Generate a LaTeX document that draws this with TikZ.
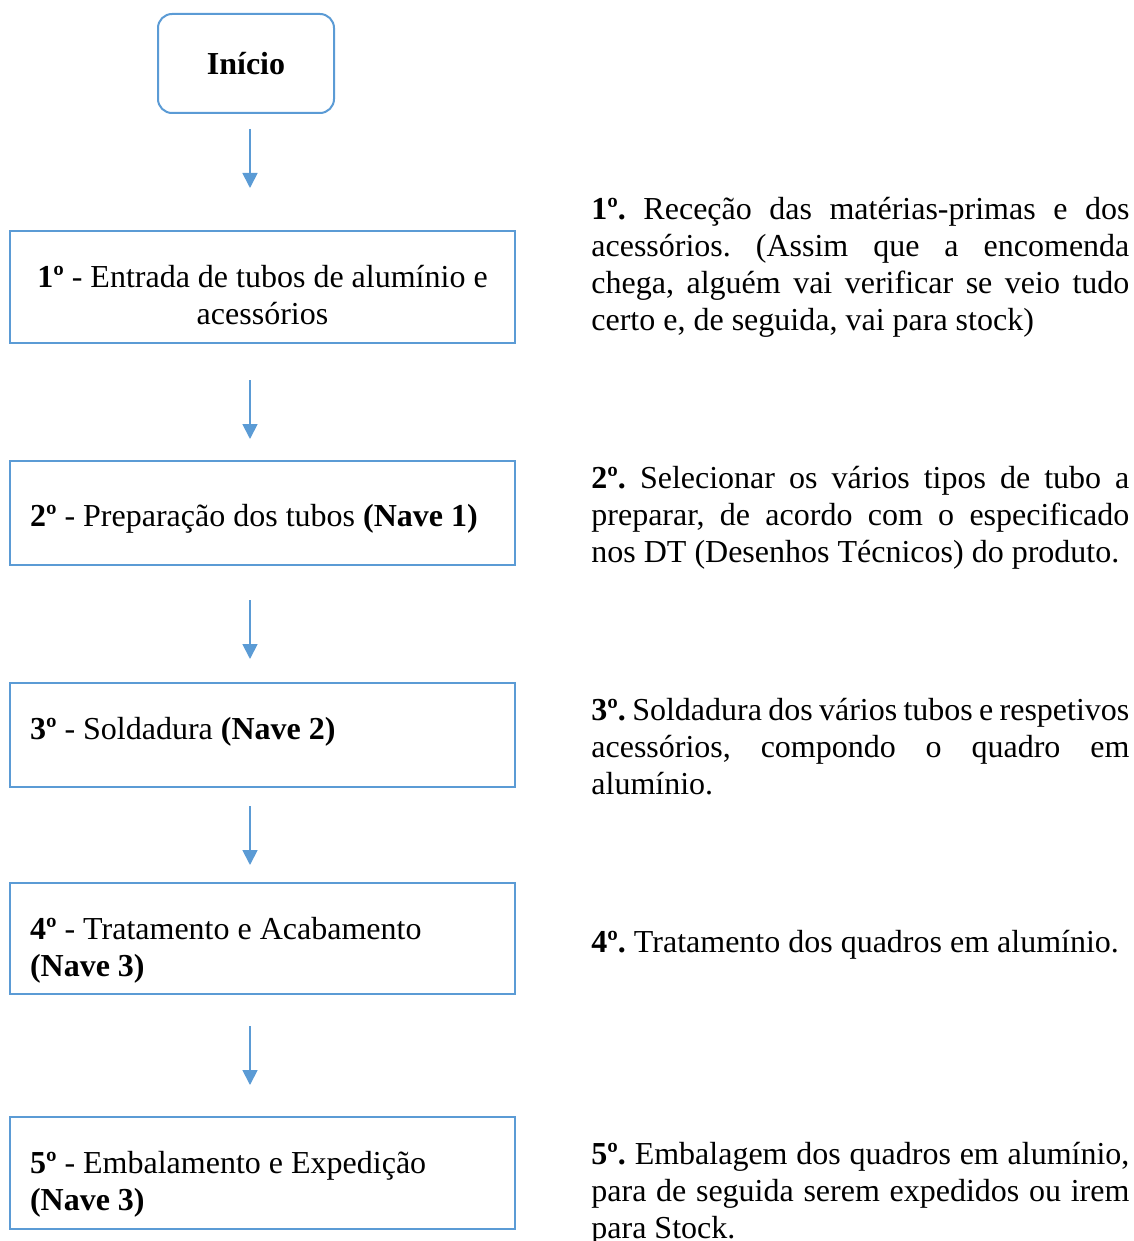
\documentclass[tikz,border=0pt]{standalone}
\usepackage{fontspec}
\setmainfont{Liberation Serif}
\frenchspacing
\usetikzlibrary{arrows.meta, positioning}
\definecolor{azul}{HTML}{5B9BD5}
\tikzset{
  inicio/.style={rectangle, rounded corners=7pt, draw=azul, line width=1pt,
                 minimum width=88pt, minimum height=49.5pt,
                 font=\fontsize{16}{18.5}\selectfont\bfseries},
  etapa/.style={rectangle, draw=azul, line width=1pt, anchor=north, inner xsep=10pt,
                inner ysep=0pt, text width=232.5pt, align=flush left,
                font=\fontsize{16}{18.5}\selectfont},
  seta/.style={-{Triangle[width=7.5pt, length=7.5pt]}, draw=azul, line width=0.9pt},
  descricao/.style={anchor=base west, inner sep=0pt, text width=269pt,
                    align=justify, font=\fontsize{16}{18.5}\selectfont},
}

\begin{document}
\begin{tikzpicture}[x=0.5pt, y=-0.5pt]
  \useasboundingbox (0,0) rectangle (1134,1241);

  %% ---- FLUXO ----
  \node[inicio] (inicio) at (246,63.5) {Início};
  \node[etapa, align=flush center, text height=28pt, text depth=28pt] (e1) at (262.5,230)
    {\textbf{1º} - Entrada de tubos de alumínio e\\acessórios};
  \node[etapa, text height=32.5pt, text depth=19.5pt] (e2) at (262.5,460)
    {\textbf{2º} - Preparação dos tubos \textbf{(Nave 1)}};
  \node[etapa, text height=28pt, text depth=24pt] (e3) at (262.5,682)
    {\textbf{3º} - Soldadura \textbf{(Nave 2)}};
  \node[etapa, text height=28pt, text depth=27.5pt] (e4) at (262.5,882)
    {\textbf{4º} - Tratamento e Acabamento\\\textbf{(Nave 3)}};
  \node[etapa, text height=28pt, text depth=28pt] (e5) at (262.5,1116)
    {\textbf{5º} - Embalamento e Expedição\\\textbf{(Nave 3)}};

  \coordinate (eixo) at (250,0);
  \foreach \de/\para/\ini/\fim in {inicio/e1/7.5/21, e1/e2/18/10.5,
      e2/e3/17/11.5, e3/e4/9/8.5, e4/e5/15.5/15.5}
    \draw[seta, shorten <=\ini pt, shorten >=\fim pt]
      (\de.south -| eixo) -- (\para.north -| eixo);

  %% ---- DESCRICOES ----
  \node[descricao] (d1) at (591,220) {\textbf{1º.} Receção das matérias-primas e dos\linebreak
    acessórios. (Assim que a encomenda\linebreak chega, alguém vai verificar se veio tudo\linebreak
    certo e, de seguida, vai para stock)};
  \node[descricao] (d2) at (591,488) {\textbf{2º.} Selecionar os vários tipos de tubo a\linebreak
    preparar, de acordo com o especificado\linebreak nos DT (Desenhos Técnicos) do produto.};
  \node[descricao] (d3) at (591,720) {\textbf{3º.} Soldadura dos vários tubos e respetivos\linebreak
    acessórios, compondo o quadro em\linebreak alumínio.};
  \node[descricao] (d4) at (591,952) {\textbf{4º.} Tratamento dos quadros em alumínio.};
  \node[descricao] (d5) at (591,1164) {\textbf{5º.} Embalagem dos quadros em alumínio,\linebreak
    para de seguida serem expedidos ou irem\linebreak para Stock.};
\end{tikzpicture}
\end{document}
